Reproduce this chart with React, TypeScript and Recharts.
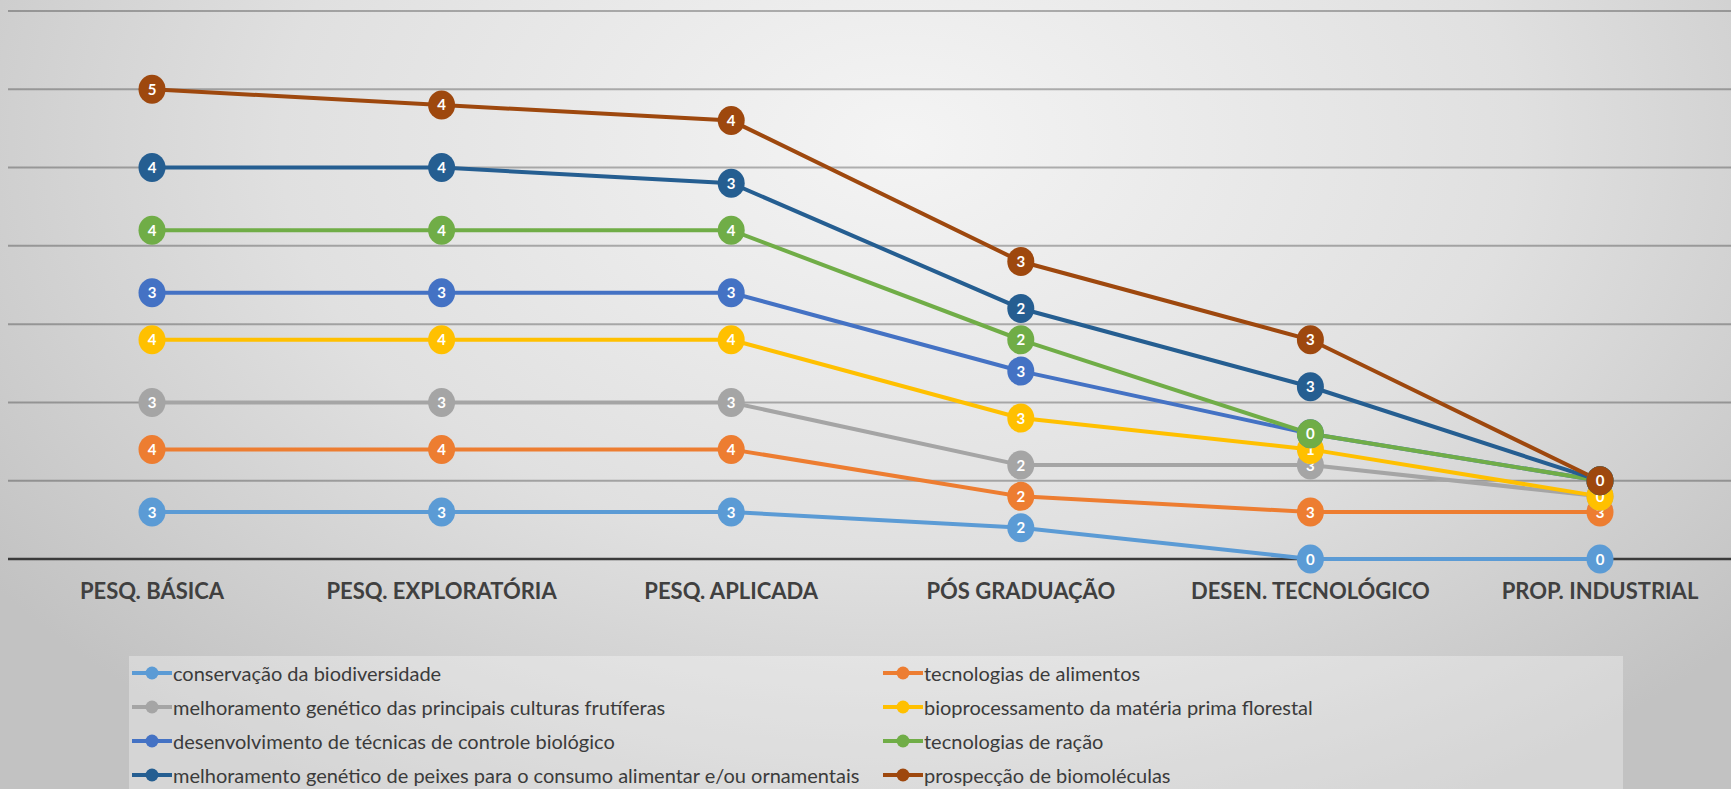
import React from "react";
import { LineChart, Line, XAxis, YAxis, CartesianGrid } from "recharts";

const stages = [
  "PESQ. BÁSICA",
  "PESQ. EXPLORATÓRIA",
  "PESQ. APLICADA",
  "PÓS GRADUAÇÃO",
  "DESEN. TECNOLÓGICO",
  "PROP. INDUSTRIAL",
];

const seriesNames = [
  "conservação da biodiversidade",
  "tecnologias de alimentos",
  "melhoramento genético das principais culturas frutíferas",
  "bioprocessamento da matéria prima florestal",
  "desenvolvimento de técnicas de controle biológico",
  "tecnologias de ração",
  "melhoramento genético de peixes para o consumo alimentar e/ou ornamentais",
  "prospecção de biomoléculas",
];

const seriesColors = ["#5B9BD5", "#ED7D31", "#A5A5A5", "#FFC000", "#4472C4", "#70AD47", "#255E91", "#9E480E"];

// plotted positions
const conservacao = [0.6, 0.6, 0.6, 0.4, 0, 0];
const alimentos = [1.4, 1.4, 1.4, 0.8, 0.6, 0.6];
const frutiferas = [2.0, 2.0, 2.0, 1.2, 1.2, 0.8];
const bioprocessamento = [2.8, 2.8, 2.8, 1.8, 1.4, 0.8];
const controle = [3.4, 3.4, 3.4, 2.4, 1.6, 1.0];
const racao = [4.2, 4.2, 4.2, 2.8, 1.6, 1.0];
const peixes = [5.0, 5.0, 4.8, 3.2, 2.2, 1.0];
const prospeccao = [6.0, 5.8, 5.6, 3.8, 2.8, 1.0];

// numbers shown inside the markers
const conservacaoLabels = [3, 3, 3, 2, 0, 0];
const alimentosLabels = [4, 4, 4, 2, 3, 3];
const frutiferasLabels = [3, 3, 3, 2, 3, 0];
const bioprocessamentoLabels = [4, 4, 4, 3, 1, 0];
const controleLabels = [3, 3, 3, 3, 0, 0];
const racaoLabels = [4, 4, 4, 2, 0, 0];
const peixesLabels = [4, 4, 3, 2, 3, 0];
const prospeccaoLabels = [5, 4, 4, 3, 3, 0];

const yTicks = [0, 1, 2, 3, 4, 5, 6, 7];

const seriesValues = [conservacao, alimentos, frutiferas, bioprocessamento, controle, racao, peixes, prospeccao];
const seriesLabels = [
  conservacaoLabels,
  alimentosLabels,
  frutiferasLabels,
  bioprocessamentoLabels,
  controleLabels,
  racaoLabels,
  peixesLabels,
  prospeccaoLabels,
];

const data = stages.map((stage, i) => {
  const row: Record<string, string | number> = { stage };
  seriesValues.forEach((vals, s) => {
    row[`s${s}`] = vals[i];
  });
  return row;
});

const FONT = "Lato, 'Open Sans', sans-serif";

function makeDot(color: string, labels: number[]) {
  return (props: any) => {
    const { cx, cy, index } = props;
    if (cx == null || cy == null) return <g key={`e-${index}`} />;
    return (
      <g key={`d-${index}`}>
        <ellipse cx={cx} cy={cy} rx={13.5} ry={14.5} fill={color} />
        <text
          x={cx}
          y={cy + 5.5}
          textAnchor="middle"
          fill="#ffffff"
          fontFamily={FONT}
          fontWeight={700}
          fontSize={15}
        >
          {labels[index]}
        </text>
      </g>
    );
  };
}

// grid lines; the bottom one doubles as the dark category axis, drawn under the series
function GridLine(props: any) {
  const { x1, x2, y1, y2 } = props;
  const isAxis = y1 > 550;
  return (
    <line
      x1={x1}
      x2={x2}
      y1={y1}
      y2={y2}
      stroke={isAxis ? "#3a3a3a" : "rgba(0,0,0,0.28)"}
      strokeWidth={isAxis ? 2.5 : 2}
    />
  );
}

function StageTick(props: any) {
  const { x, y, payload } = props;
  return (
    <text
      x={x}
      y={y + 32}
      textAnchor="middle"
      fill="#404040"
      fontFamily={FONT}
      fontWeight={700}
      fontSize={22}
    >
      {payload.value}
    </text>
  );
}

function LegendBox() {
  return (
    <div
      style={{
        position: "absolute",
        left: 129,
        top: 656,
        width: 1494,
        height: 133,
        background: "rgba(255,255,255,0.32)",
        display: "grid",
        gridTemplateColumns: "751px 1fr",
        gridAutoRows: "34px",
        fontFamily: FONT,
        fontSize: 20,
        lineHeight: "22px",
        color: "#3b3b3b",
      }}
    >
      {seriesNames.map((name, i) => (
        <div key={name} style={{ display: "flex", alignItems: "center", paddingLeft: 3, whiteSpace: "nowrap" }}>
          <svg width={40} height={16} style={{ flex: "none" }}>
            <line x1={0} y1={8} x2={40} y2={8} stroke={seriesColors[i]} strokeWidth={4} />
            <circle cx={20} cy={8} r={6.5} fill={seriesColors[i]} />
          </svg>
          <span style={{ marginLeft: 1 }}>{name}</span>
        </div>
      ))}
    </div>
  );
}

export default function App() {
  return (
    <>
      <style>{"html,body{margin:0;padding:0;overflow:hidden}"}</style>
      <div
        style={{
          position: "relative",
          width: 1731,
          height: 789,
          overflow: "hidden",
          background: "radial-gradient(ellipse 65% 95% at 52% 18%, #f4f4f4 0%, #e0e0e0 55%, #c2c2c2 100%)",
        }}
      >
        <div style={{ position: "absolute", left: 8, top: 0 }}>
          <LineChart width={1736} height={640} data={data} margin={{ top: 11, right: 0, left: 0, bottom: 21 }}>
            <CartesianGrid vertical={false} horizontal={(p: any) => <GridLine key={p.key} {...p} />} />
            <XAxis
              dataKey="stage"
              height={60}
              tickLine={false}
              axisLine={false}
              tick={<StageTick />}
              interval={0}
              padding={{ left: 144, right: 144 }}
            />
            <YAxis hide domain={[0, 7]} ticks={yTicks} />
            {seriesNames.map((name, s) => (
              <Line
                key={name}
                dataKey={`s${s}`}
                name={name}
                type="linear"
                stroke={seriesColors[s]}
                strokeWidth={4}
                dot={makeDot(seriesColors[s], seriesLabels[s])}
                activeDot={false}
                isAnimationActive={false}
              />
            ))}
          </LineChart>
        </div>
        <LegendBox />
      </div>
    </>
  );
}
